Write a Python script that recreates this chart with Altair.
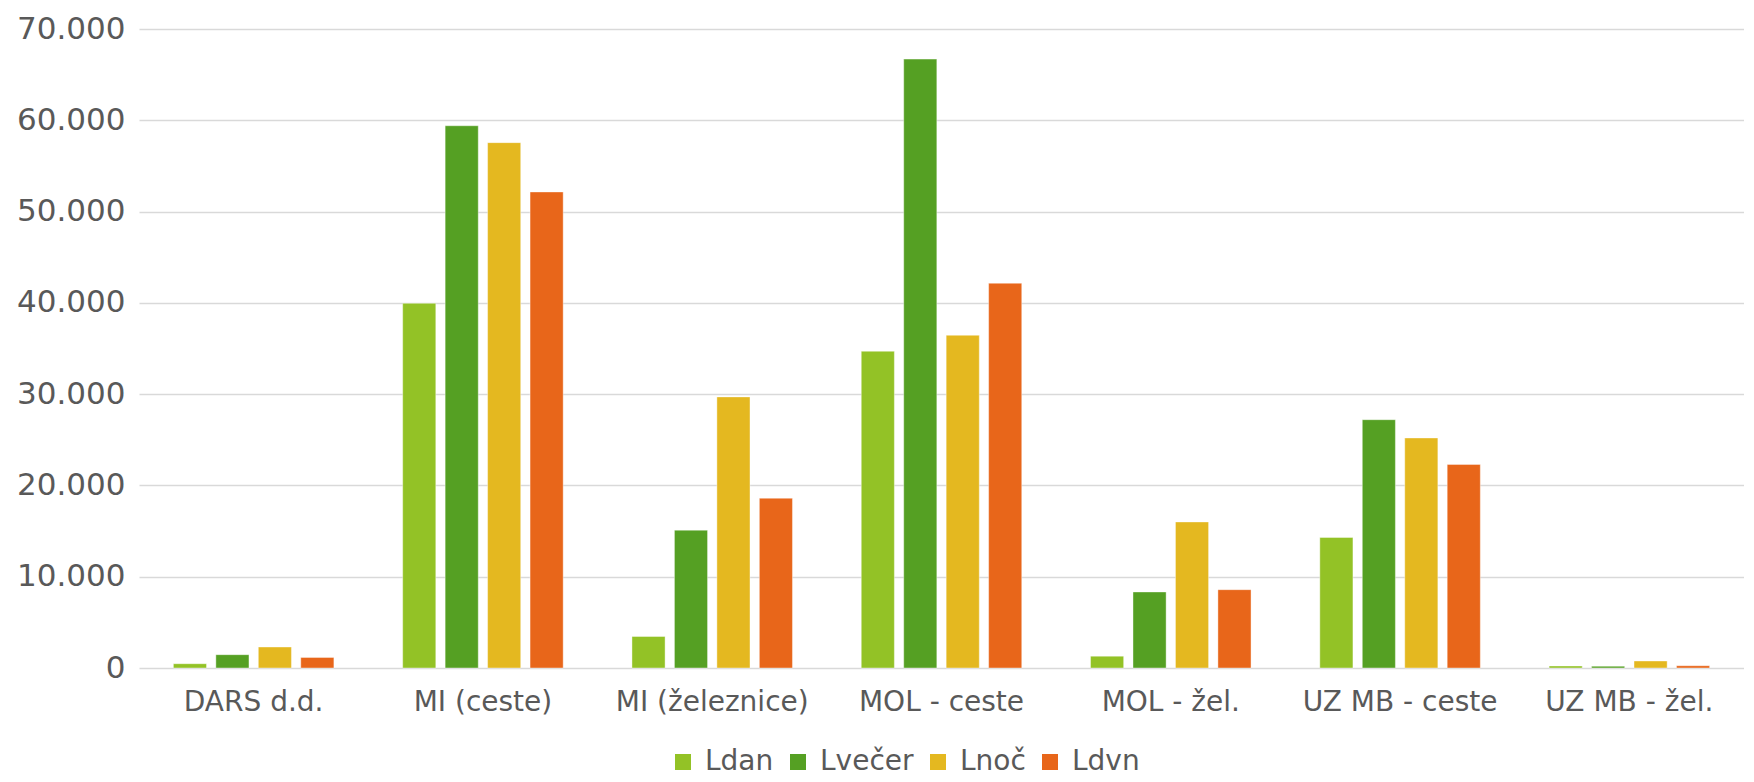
import altair as alt
import pandas as pd

categories = ["DARS d.d.", "MI (ceste)", "MI (železnice)", "MOL - ceste",
              "MOL - žel.", "UZ MB - ceste", "UZ MB - žel."]
series = ["Ldan", "Lvečer", "Lnoč", "Ldvn"]
ldan = [470, 39950, 3450, 34700, 1300, 14300, 220]
lvecer = [1460, 59400, 15100, 66700, 8330, 27200, 200]
lnoc = [2300, 57550, 29700, 36450, 16000, 25200, 770]
ldvn = [1160, 52150, 18600, 42150, 8580, 22300, 250]
colors = ["#93C226", "#55A023", "#E4B820", "#E8661A"]
y_ticks = [0, 10000, 20000, 30000, 40000, 50000, 60000, 70000]

rows = []
for s, vals in zip(series, [ldan, lvecer, lnoc, ldvn]):
    for c, v in zip(categories, vals):
        rows.append({"kategorija": c, "serija": s, "vrednost": v})
df = pd.DataFrame(rows)

FONT = "DejaVu Sans"
TXT = "#595959"

chart = alt.Chart(df).mark_bar(stroke="white", strokeWidth=0.8, strokeOpacity=0.5).encode(
    x=alt.X("kategorija:N", sort=categories, title=None,
            scale=alt.Scale(paddingInner=0.3, paddingOuter=0.15),
            axis=alt.Axis(labelAngle=0, ticks=False, domain=False, grid=False,
                          labelFontSize=28, labelColor=TXT, labelFont=FONT,
                          labelPadding=20, labelLimit=400)),
    xOffset=alt.XOffset("serija:N", sort=series,
                        scale=alt.Scale(paddingInner=0.22, paddingOuter=0)),
    y=alt.Y("vrednost:Q", title=None,
            scale=alt.Scale(domain=[0, 70000], nice=False),
            axis=alt.Axis(values=y_ticks, ticks=False, domain=False,
                          labelExpr="datum.value == 0 ? '0' : format(datum.value / 1000, 'd') + '.000'",
                          labelFontSize=31, labelColor=TXT, labelFont=FONT,
                          labelPadding=14, gridColor="#D9D9D9", gridWidth=1.5)),
    color=alt.Color("serija:N", sort=series,
                    scale=alt.Scale(domain=series, range=colors),
                    legend=alt.Legend(title=None, orient="none", direction="horizontal",
                                      legendX=530, legendY=719,
                                      symbolType="square", symbolSize=256,
                                      symbolStrokeWidth=0, symbolOpacity=1,
                                      labelFontSize=28, labelFont=FONT, labelColor=TXT,
                                      labelOffset=8, columnPadding=10)),
).properties(
    width=1605, height=639,
    autosize=alt.AutoSizeParams(type="none"),
    padding={"left": 131, "top": 21, "right": 0, "bottom": 110},
).configure_view(stroke=None)

chart.save("out.html", embed_options={"renderer": "svg", "actions": False})
